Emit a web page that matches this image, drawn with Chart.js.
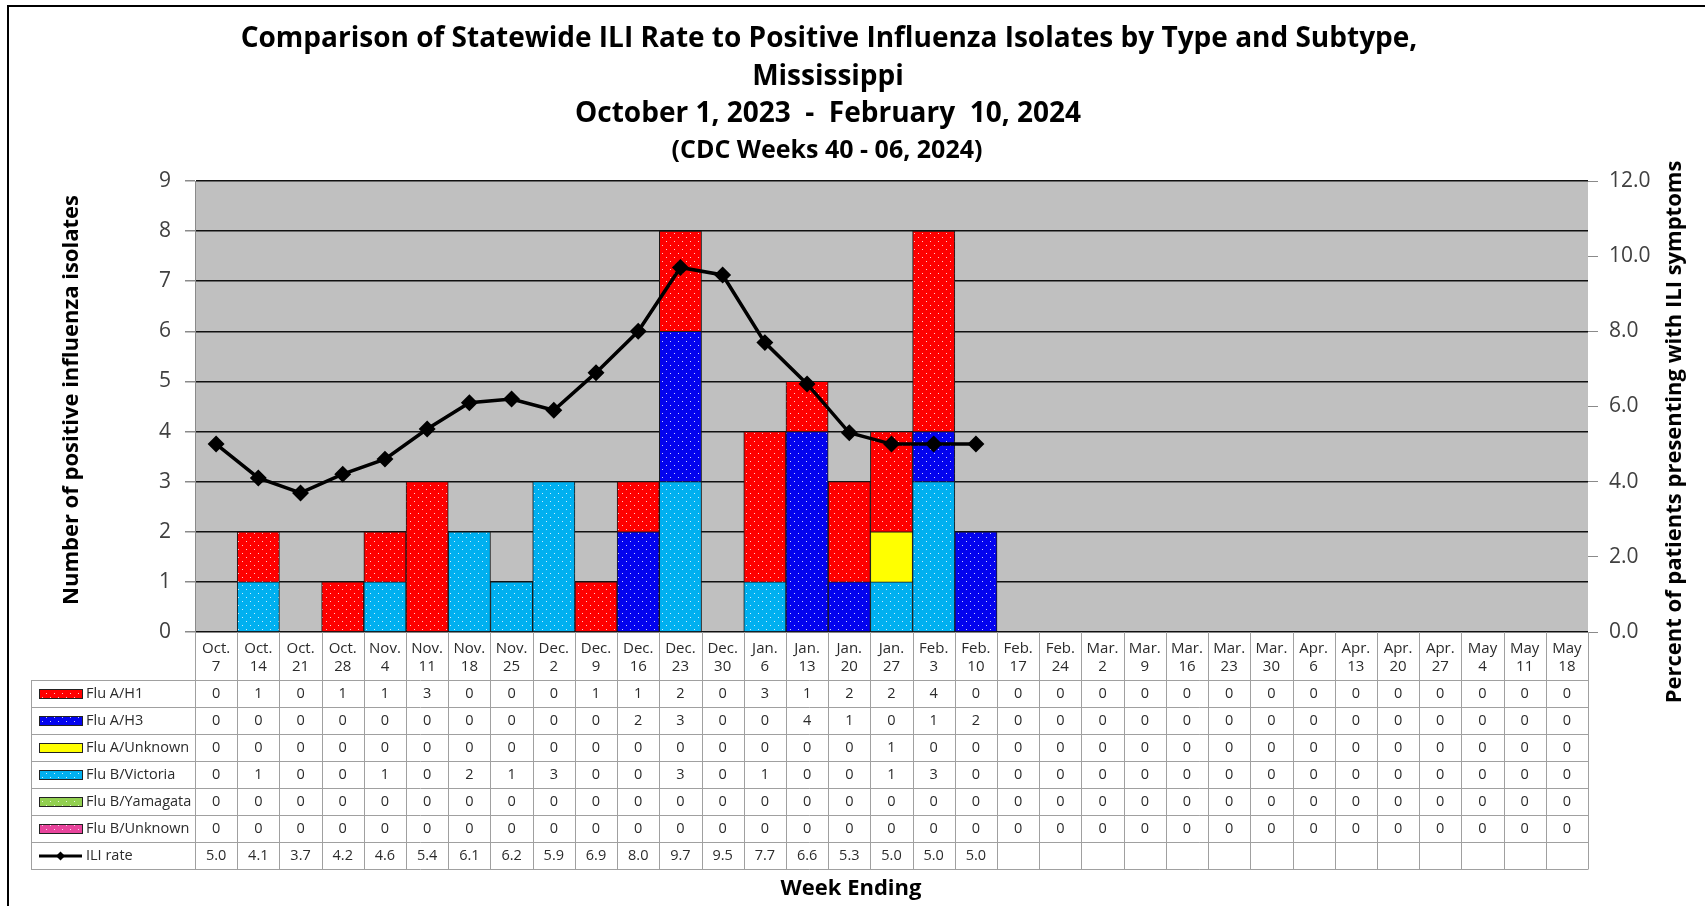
<!DOCTYPE html>
<html>
<head>
<meta charset="utf-8">
<title>Statewide ILI Rate vs Positive Influenza Isolates, Mississippi</title>
<script src="https://cdn.jsdelivr.net/npm/chart.js@4.4.1/dist/chart.umd.min.js"></script>
<style>
    body { margin: 0; background: #fff; }
    #wrap { position: relative; width: 1705px; height: 906px; }
</style>
</head>
<body>
<div id="wrap"><canvas id="fluChart"></canvas></div>
<script>
// week ending labels (two lines each)
const WEEK_LABELS = [
    ['Oct.', '7'], ['Oct.', '14'], ['Oct.', '21'], ['Oct.', '28'],
    ['Nov.', '4'], ['Nov.', '11'], ['Nov.', '18'], ['Nov.', '25'],
    ['Dec.', '2'], ['Dec.', '9'], ['Dec.', '16'], ['Dec.', '23'], ['Dec.', '30'],
    ['Jan.', '6'], ['Jan.', '13'], ['Jan.', '20'], ['Jan.', '27'],
    ['Feb.', '3'], ['Feb.', '10'], ['Feb.', '17'], ['Feb.', '24'],
    ['Mar.', '2'], ['Mar.', '9'], ['Mar.', '16'], ['Mar.', '23'], ['Mar.', '30'],
    ['Apr.', '6'], ['Apr.', '13'], ['Apr.', '20'], ['Apr.', '27'],
    ['May', '4'], ['May', '11'], ['May', '18']
];

const FLU_A_H1      = [0, 1, 0, 1, 1, 3, 0, 0, 0, 1, 1, 2, 0, 3, 1, 2, 2, 4, 0, 0, 0, 0, 0, 0, 0, 0, 0, 0, 0, 0, 0, 0, 0];
const FLU_A_H3      = [0, 0, 0, 0, 0, 0, 0, 0, 0, 0, 2, 3, 0, 0, 4, 1, 0, 1, 2, 0, 0, 0, 0, 0, 0, 0, 0, 0, 0, 0, 0, 0, 0];
const FLU_A_UNKNOWN = [0, 0, 0, 0, 0, 0, 0, 0, 0, 0, 0, 0, 0, 0, 0, 0, 1, 0, 0, 0, 0, 0, 0, 0, 0, 0, 0, 0, 0, 0, 0, 0, 0];
const FLU_B_VICTORIA = [0, 1, 0, 0, 1, 0, 2, 1, 3, 0, 0, 3, 0, 1, 0, 0, 1, 3, 0, 0, 0, 0, 0, 0, 0, 0, 0, 0, 0, 0, 0, 0, 0];
const FLU_B_YAMAGATA = [0, 0, 0, 0, 0, 0, 0, 0, 0, 0, 0, 0, 0, 0, 0, 0, 0, 0, 0, 0, 0, 0, 0, 0, 0, 0, 0, 0, 0, 0, 0, 0, 0];
const FLU_B_UNKNOWN = [0, 0, 0, 0, 0, 0, 0, 0, 0, 0, 0, 0, 0, 0, 0, 0, 0, 0, 0, 0, 0, 0, 0, 0, 0, 0, 0, 0, 0, 0, 0, 0, 0];

// percent of patients with ILI symptoms (reported weeks only)
const ILI_RATE = [5.0, 4.1, 3.7, 4.2, 4.6, 5.4, 6.1, 6.2, 5.9, 6.9, 8.0, 9.7, 9.5, 7.7, 6.6, 5.3, 5.0, 5.0, 5.0];

const FONT = '"Open Sans", "Noto Sans", sans-serif';

// solid fill with the little white dots Excel uses
function dotted(color, dots = true) {
    const tile = document.createElement('canvas');
    tile.width = 8;
    tile.height = 8;
    const g = tile.getContext('2d');
    g.fillStyle = color;
    g.fillRect(0, 0, 8, 8);
    if (dots) {
        g.fillStyle = 'rgba(255,255,255,0.8)';
        g.fillRect(2, 1, 1, 1);
        g.fillRect(6, 5, 1, 1);
    }
    return g.createPattern(tile, 'repeat');
}

// table rows in legend order (top to bottom)
const SERIES = [
    { label: 'Flu A/H1', color: '#FF0000', data: FLU_A_H1 },
    { label: 'Flu A/H3', color: '#0303EE', data: FLU_A_H3 },
    { label: 'Flu A/Unknown', color: '#FFFF00', data: FLU_A_UNKNOWN, plain: true },
    { label: 'Flu B/Victoria', color: '#00B0F0', data: FLU_B_VICTORIA },
    { label: 'Flu B/Yamagata', color: '#92D050', data: FLU_B_YAMAGATA },
    { label: 'Flu B/Unknown', color: '#E8449C', data: FLU_B_UNKNOWN }
];
SERIES.forEach(s => { s.fill = dotted(s.color, !s.plain); });

const chartDecor = {
    id: 'chartDecor',
    beforeDraw(chart) {
        const { ctx, chartArea: a } = chart;
        ctx.save();
        ctx.fillStyle = '#fff';
        ctx.fillRect(0, 0, chart.width, chart.height);
        ctx.fillStyle = '#C0C0C0';
        ctx.fillRect(a.left, a.top, a.right - a.left, a.bottom - a.top);
        // outer frame (left and top edges show in the picture)
        ctx.strokeStyle = '#000';
        ctx.lineWidth = 2;
        ctx.beginPath();
        ctx.moveTo(8, chart.height);
        ctx.lineTo(8, 6);
        ctx.lineTo(chart.width, 6);
        ctx.stroke();
        ctx.restore();
    },
    afterDraw(chart) {
        const { ctx, chartArea: a } = chart;
        ctx.save();

        // titles
        ctx.fillStyle = '#000';
        ctx.textAlign = 'center';
        ctx.textBaseline = 'middle';
        ctx.font = `bold 28px ${FONT}`;
        ctx.fillText('Comparison of Statewide ILI Rate to Positive Influenza Isolates by Type and Subtype,', 829, 39);
        ctx.fillText('Mississippi', 828, 77);
        ctx.fillText('October 1, 2023  -  February  10, 2024', 828, 114);
        ctx.font = `bold 25px ${FONT}`;
        ctx.fillText('(CDC Weeks 40 - 06, 2024)', 827, 151);

        ctx.font = `bold 22px ${FONT}`;
        ctx.save();
        ctx.translate(72, 400);
        ctx.rotate(-Math.PI / 2);
        ctx.fillText('Number of positive influenza isolates', 0, 0);
        ctx.restore();
        ctx.save();
        ctx.translate(1675, 432);
        ctx.rotate(-Math.PI / 2);
        ctx.fillText('Percent of patients presenting with ILI symptoms', 0, 0);
        ctx.restore();

        ctx.font = `bold 22px ${FONT}`;
        ctx.fillText('Week Ending', 851, 889);

        // data table under the x axis
        const n = WEEK_LABELS.length;
        const colW = (a.right - a.left) / n;
        const headTop = a.bottom;
        const bodyTop = a.bottom + 48;
        const rowH = 27;
        const tableLeft = 31;
        const nRows = SERIES.length + 1;
        const bodyBottom = bodyTop + rowH * nRows;

        ctx.strokeStyle = '#A0A0A0';
        ctx.lineWidth = 1;
        ctx.beginPath();
        for (let i = 0; i <= n; i++) {
            const px = Math.round(a.left + i * colW) + 0.5;
            ctx.moveTo(px, headTop);
            ctx.lineTo(px, bodyBottom);
        }
        ctx.moveTo(tableLeft + 0.5, bodyTop);
        ctx.lineTo(tableLeft + 0.5, bodyBottom);
        for (let r = 0; r <= nRows; r++) {
            const py = Math.round(bodyTop + r * rowH) + 0.5;
            ctx.moveTo(tableLeft, py);
            ctx.lineTo(a.right + 0.5, py);
        }
        ctx.stroke();

        ctx.font = `14.5px ${FONT}`;
        ctx.fillStyle = '#2b2b2b';
        const rows = SERIES.map(s => ({ s, values: s.data.map(v => String(v)) }));
        rows.push({ s: null, values: WEEK_LABELS.map((_, i) => ILI_RATE[i] != null ? ILI_RATE[i].toFixed(1) : '') });

        rows.forEach((row, r) => {
            const cy = bodyTop + r * rowH + rowH / 2 + 0.5;
            // legend key
            if (row.s) {
                ctx.fillStyle = row.s.fill;
                ctx.fillRect(39, cy - 4, 43, 8);
                ctx.strokeStyle = '#222';
                ctx.strokeRect(39.5, cy - 4.5, 43, 9);
            } else {
                ctx.strokeStyle = '#000';
                ctx.lineWidth = 3;
                ctx.beginPath();
                ctx.moveTo(39, cy);
                ctx.lineTo(82, cy);
                ctx.stroke();
                ctx.lineWidth = 1;
                ctx.fillStyle = '#000';
                ctx.beginPath();
                ctx.moveTo(60.5, cy - 4.5);
                ctx.lineTo(65, cy);
                ctx.lineTo(60.5, cy + 4.5);
                ctx.lineTo(56, cy);
                ctx.closePath();
                ctx.fill();
            }
            ctx.fillStyle = '#2b2b2b';
            ctx.textAlign = 'left';
            ctx.fillText(row.s ? row.s.label : 'ILI rate', 86, cy);
            ctx.textAlign = 'center';
            row.values.forEach((txt, i) => {
                ctx.fillText(txt, a.left + (i + 0.5) * colW, cy);
            });
        });

        ctx.restore();
    }
};

// stacked bottom-up: B/Unknown, B/Yamagata, B/Victoria, A/Unknown, A/H3, A/H1
const barSets = SERIES.slice().reverse().map(s => ({
    type: 'bar',
    label: s.label,
    data: s.data,
    backgroundColor: s.fill,
    borderColor: '#1a1a1a',
    borderWidth: 1,
    yAxisID: 'y',
    order: 1
}));

new Chart(document.getElementById('fluChart'), {
    data: {
        labels: WEEK_LABELS,
        datasets: [
            {
                type: 'line',
                label: 'ILI rate',
                data: ILI_RATE,
                borderColor: '#000',
                backgroundColor: '#000',
                borderWidth: 3.5,
                pointStyle: 'rectRot',
                pointRadius: 6,
                tension: 0,
                yAxisID: 'y2',
                order: 0
            },
            ...barSets
        ]
    },
    options: {
        responsive: true,
        maintainAspectRatio: false,
        animation: false,
        layout: { padding: { top: 181, bottom: 226, left: 0, right: 0 } },
        datasets: {
            bar: { categoryPercentage: 1, barPercentage: 1 }
        },
        plugins: {
            legend: { display: false },
            tooltip: { enabled: false }
        },
        scales: {
            x: {
                stacked: true,
                grid: { display: false, drawTicks: false },
                border: { display: false },
                ticks: {
                    padding: 8,
                    maxRotation: 0,
                    autoSkip: false,
                    color: '#2b2b2b',
                    font: { family: FONT, size: 15 }
                },
                afterFit: scale => { scale.height = 48; }
            },
            y: {
                stacked: true,
                position: 'left',
                min: 0,
                max: 9,
                ticks: {
                    stepSize: 1,
                    padding: 14,
                    color: '#404040',
                    font: { family: FONT, size: 21 }
                },
                grid: { color: '#111', lineWidth: 1.5, tickColor: '#8a8a8a', tickLength: 10 },
                border: { display: true, color: '#8a8a8a', width: 1 },
                afterFit: scale => { scale.width = 195; }
            },
            y2: {
                position: 'right',
                min: 0,
                max: 12,
                ticks: {
                    stepSize: 2,
                    padding: 11,
                    color: '#404040',
                    font: { family: FONT, size: 21 },
                    callback: v => v.toFixed(1)
                },
                grid: { drawOnChartArea: false, tickColor: '#8a8a8a', tickLength: 10 },
                border: { display: false },
                afterFit: scale => { scale.width = 117; }
            }
        }
    },
    plugins: [chartDecor]
});
</script>
</body>
</html>
